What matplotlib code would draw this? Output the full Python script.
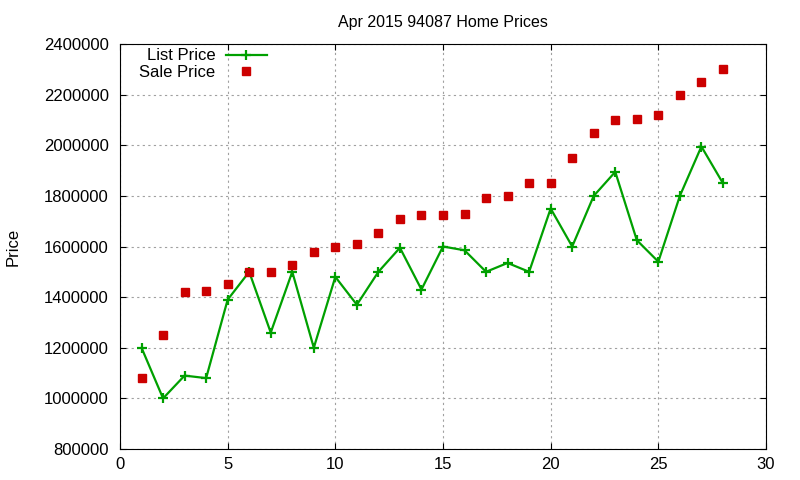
import matplotlib
matplotlib.use('Agg')
import matplotlib.pyplot as plt

plt.rcParams['font.family'] = ['Liberation Sans', 'DejaVu Sans']

dias = list(range(1, 29))
list_price = [1200000, 1000000, 1090000, 1080000, 1390000, 1500000, 1260000,
              1500000, 1200000, 1480000, 1370000, 1500000, 1595000, 1430000,
              1600000, 1585000, 1500000, 1535000, 1500000, 1750000, 1600000,
              1800000, 1895000, 1625000, 1540000, 1800000, 1995000, 1850000]
sale_price = [1080000, 1250000, 1420000, 1425000, 1450000, 1500000, 1500000,
              1525000, 1580000, 1600000, 1610000, 1655000, 1710000, 1725000,
              1725000, 1730000, 1790000, 1800000, 1850000, 1850000, 1950000,
              2050000, 2100000, 2105000, 2120000, 2200000, 2250000, 2300000]
yticks = list(range(800000, 2400001, 200000))
xticks = [0, 5, 10, 15, 20, 25, 30]

fig = plt.figure(figsize=(8, 4.8), dpi=100)
ax = fig.add_axes([0.15, 0.0646, 0.8075, 0.8437])

ax.plot(dias, list_price, color='#00a000', lw=1.6, marker='+', ms=7, mew=1.6,
        label='List Price')
ax.plot(dias, sale_price, ls='none', color='#cc0000', marker='s', ms=5.2,
        label='Sale Price')

ax.set_xlim(0, 30)
ax.set_ylim(800000, 2400000)
ax.set_xticks(xticks)
ax.set_yticks(yticks)
ax.set_yticklabels([str(v) for v in yticks])
ax.tick_params(direction='in', top=True, right=True, labelsize=12, length=4)
ax.tick_params(axis='y', pad=8)
ax.tick_params(axis='x', pad=6)
ax.grid(True, color='#a0a0a0', ls=(0, (2, 3)), lw=0.8)

ax.set_title('Apr 2015 94087 Home Prices', fontsize=11.5, pad=12)
ax.set_ylabel('Price', fontsize=12)
ax.yaxis.set_label_coords(-0.154, 0.5)

ax.legend(loc='upper left', bbox_to_anchor=(0.012, 1.018), frameon=False,
          markerfirst=False, fontsize=12, handlelength=2.5,
          labelspacing=0.08, handletextpad=0.6, borderaxespad=0.3)

plt.savefig('out.png', dpi=100)
